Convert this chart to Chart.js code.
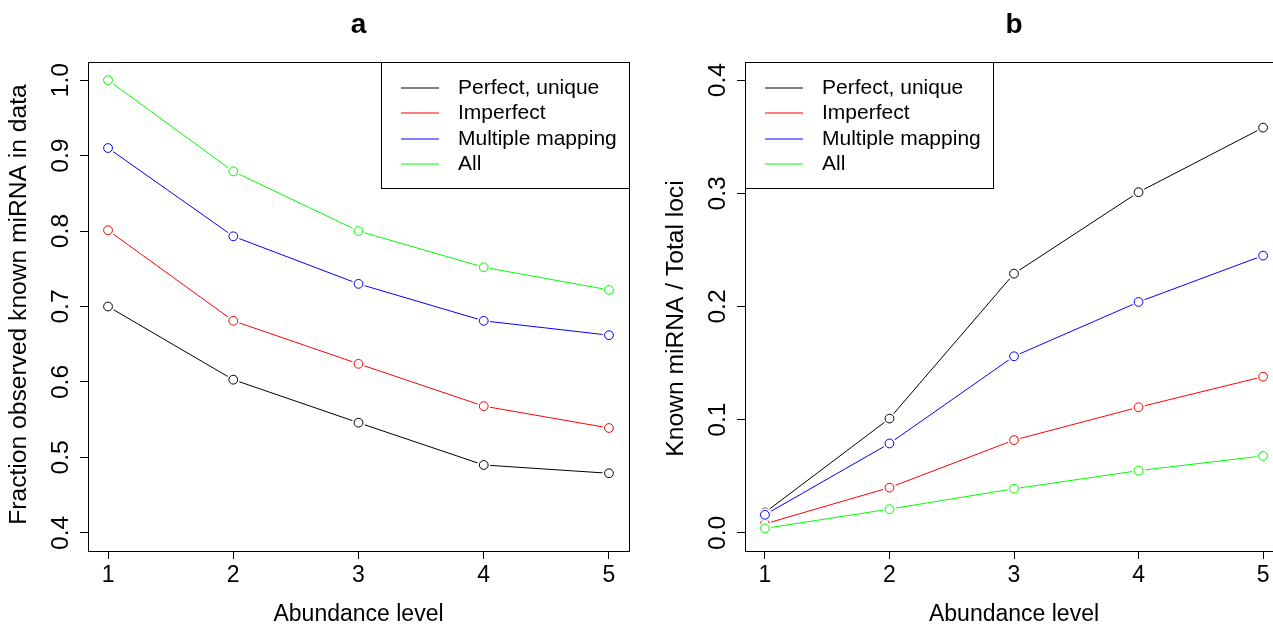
<!DOCTYPE html>
<html>
<head>
<meta charset="utf-8">
<script src="https://cdn.jsdelivr.net/npm/chart.js@4"></script>
<style>
  html, body { margin: 0; padding: 0; background: #fff; overflow: hidden; }
  body { width: 1273px; height: 626px; position: relative; }
  canvas { position: absolute; top: 0; }
  #chartA { left: 0; }
  #chartB { left: 657px; }
</style>
</head>
<body>
<canvas id="chartA" width="640" height="626"></canvas>
<canvas id="chartB" width="640" height="626"></canvas>
<script>
// Abundance levels (x axis) and tick labels
const levels = [1, 2, 3, 4, 5];
const xTicks = [1, 2, 3, 4, 5];
const seriesNames = ['Perfect, unique', 'Imperfect', 'Multiple mapping', 'All'];
const seriesColors = ['#000000', '#ff0000', '#0000ff', '#00ff00'];

// Panel a: fraction observed known miRNA in data
const fracPerfect = [0.700, 0.603, 0.546, 0.490, 0.479];
const fracImperfect = [0.801, 0.681, 0.624, 0.568, 0.539];
const fracMultiple = [0.910, 0.793, 0.730, 0.681, 0.662];
const fracAll = [1.000, 0.879, 0.800, 0.752, 0.722];
const yTicksA = [0.4, 0.5, 0.6, 0.7, 0.8, 0.9, 1.0];

// Panel b: known miRNA / total loci
const ratioPerfect = [0.018, 0.101, 0.229, 0.301, 0.358];
const ratioImperfect = [0.008, 0.040, 0.082, 0.111, 0.138];
const ratioMultiple = [0.016, 0.079, 0.156, 0.204, 0.245];
const ratioAll = [0.004, 0.021, 0.039, 0.055, 0.068];
const yTicksB = [0.0, 0.1, 0.2, 0.3, 0.4];

const FONT = '"Liberation Sans", Arial, Helvetica, sans-serif';
Chart.defaults.font.family = FONT;
Chart.defaults.color = '#000';

// R-like decorations: open circles with gaps, box, rotated y labels, titles, legend
const rStyle = {
  id: 'rStyle',
  afterDatasetsDraw(chart) {
    const ctx = chart.ctx;
    chart.data.datasets.forEach((ds, i) => {
      const meta = chart.getDatasetMeta(i);
      meta.data.forEach(pt => {
        ctx.save();
        ctx.fillStyle = '#fff';
        ctx.beginPath();
        ctx.arc(pt.x, pt.y, 6.5, 0, Math.PI * 2);
        ctx.fill();
        ctx.strokeStyle = ds.borderColor;
        ctx.lineWidth = 1;
        ctx.beginPath();
        ctx.arc(pt.x, pt.y, 4.4, 0, Math.PI * 2);
        ctx.stroke();
        ctx.restore();
      });
    });
  },
  afterDraw(chart, args, opts) {
    const ctx = chart.ctx;
    const a = chart.chartArea;
    const yScale = chart.scales.y;
    const stretch = 1.07; // vertical text is a little taller in the original
    ctx.save();
    // box
    ctx.strokeStyle = '#000';
    ctx.lineWidth = 1;
    ctx.strokeRect(Math.round(a.left) + 0.5, Math.round(a.top) + 0.5,
      Math.round(a.right - a.left), Math.round(a.bottom - a.top));

    // rotated y tick labels
    ctx.fillStyle = '#000';
    ctx.font = '23px ' + FONT;
    ctx.textAlign = 'center';
    ctx.textBaseline = 'middle';
    opts.yTicks.forEach(v => {
      const y = yScale.getPixelForValue(v);
      ctx.save();
      ctx.translate(a.left - 26, y);
      ctx.rotate(-Math.PI / 2);
      ctx.scale(stretch, 1);
      ctx.fillText(v.toFixed(1), 0, 0);
      ctx.restore();
    });

    // y axis title
    ctx.save();
    ctx.translate(a.left - 68, (a.top + a.bottom) / 2 + opts.yTitleShift);
    ctx.rotate(-Math.PI / 2);
    ctx.scale(stretch, 1);
    ctx.fillText(opts.yTitle, 0, 0);
    ctx.restore();

    // x axis title
    ctx.fillText('Abundance level', (a.left + a.right) / 2, a.bottom + 64);

    // panel title
    ctx.font = 'bold 28px ' + FONT;
    ctx.fillText(opts.title, (a.left + a.right) / 2, 25);

    // legend
    const w = 248, h = 126;
    const lx = opts.legendSide === 'right' ? a.right - w : a.left;
    const ly = a.top;
    ctx.fillStyle = '#fff';
    ctx.fillRect(Math.round(lx) + 0.5, Math.round(ly) + 0.5, w, h);
    ctx.strokeStyle = '#000';
    ctx.strokeRect(Math.round(lx) + 0.5, Math.round(ly) + 0.5, w, h);
    ctx.font = '21px ' + FONT;
    ctx.textAlign = 'left';
    const rows = [26, 51, 77, 102];
    chart.data.datasets.forEach((ds, i) => {
      const ry = ly + rows[i];
      ctx.strokeStyle = ds.borderColor;
      ctx.lineWidth = 1.2;
      ctx.beginPath();
      ctx.moveTo(lx + 20, ry);
      ctx.lineTo(lx + 58, ry);
      ctx.stroke();
      ctx.fillStyle = '#000';
      ctx.fillText(ds.label, lx + 77, ry);
    });
    ctx.restore();
  }
};

function makeDatasets(seriesList) {
  return seriesList.map((vals, i) => ({
    label: seriesNames[i],
    data: vals.map((v, j) => ({ x: levels[j], y: v })),
    borderColor: seriesColors[i],
    backgroundColor: seriesColors[i],
    borderWidth: 1,
    pointRadius: 0,
    tension: 0,
    fill: false
  }));
}

function makeChart(id, seriesList, yMin, yMax, yTicks, yTitle, yTitleShift, title, legendSide, padRight) {
  return new Chart(document.getElementById(id), {
    type: 'line',
    data: { datasets: makeDatasets(seriesList) },
    options: {
      responsive: false,
      animation: false,
      layout: { padding: { top: 62, right: padRight, left: 0, bottom: 0 } },
      plugins: {
        legend: { display: false },
        tooltip: { enabled: false },
        rStyle: { yTicks: yTicks, yTitle: yTitle, yTitleShift: yTitleShift, title: title, legendSide: legendSide }
      },
      scales: {
        x: {
          type: 'linear',
          min: 0.84,
          max: 5.16,
          afterBuildTicks: s => { s.ticks = xTicks.map(v => ({ value: v })); },
          afterFit: s => { s.height = 75; },
          grid: { drawOnChartArea: false, drawTicks: true, tickLength: 8, color: '#000' },
          border: { display: true, color: '#000' },
          ticks: { font: { size: 23 }, padding: 3, maxRotation: 0, callback: v => String(v) }
        },
        y: {
          type: 'linear',
          min: yMin,
          max: yMax,
          afterBuildTicks: s => { s.ticks = yTicks.map(v => ({ value: v })); },
          afterFit: s => { s.width = 88; },
          grid: { drawOnChartArea: false, drawTicks: true, tickLength: 8, color: '#000' },
          border: { display: true, color: '#000' },
          ticks: { display: false }
        }
      }
    },
    plugins: [rStyle]
  });
}

makeChart('chartA', [fracPerfect, fracImperfect, fracMultiple, fracAll],
  0.376, 1.024, yTicksA, 'Fraction observed known miRNA in data', -2, 'a', 'right', 11);
makeChart('chartB', [ratioPerfect, ratioImperfect, ratioMultiple, ratioAll],
  -0.016, 0.416, yTicksB, 'Known miRNA / Total loci', 12, 'b', 'left', 14);
</script>
</body>
</html>
